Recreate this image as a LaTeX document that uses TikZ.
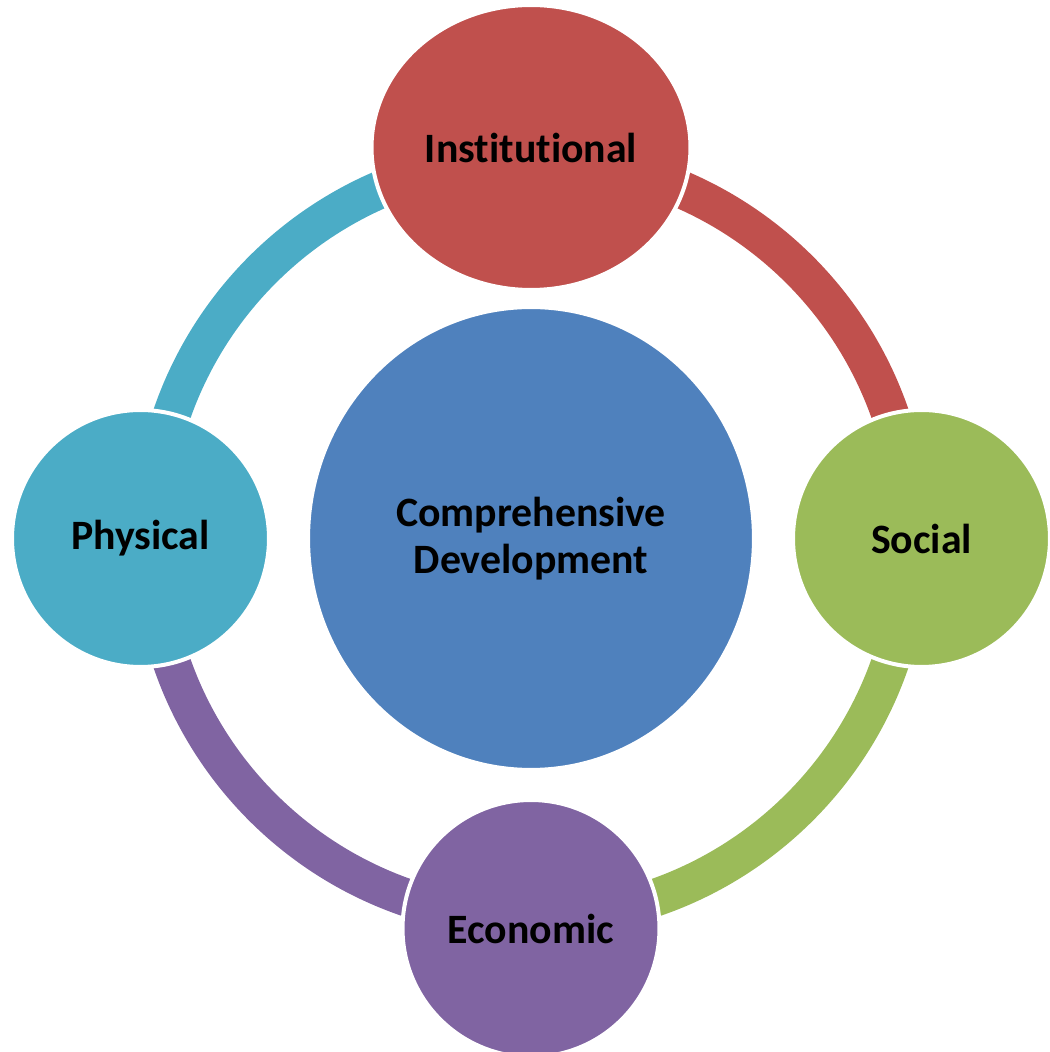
\documentclass[tikz,border=0pt]{standalone}
\usepackage{fontspec}
\setsansfont{Carlito}[Ligatures=NoCommon]
\usetikzlibrary{calc,shapes.geometric,backgrounds}
\definecolor{hubblue}{HTML}{4F81BD}
\definecolor{instred}{HTML}{C0504D}
\definecolor{socgreen}{HTML}{9BBB59}
\definecolor{econpurple}{HTML}{8064A2}
\definecolor{physcyan}{HTML}{4BACC6}

\begin{document}
\begin{tikzpicture}[x=0.02cm,y=0.02cm,
    blob/.style={circle,draw=white,line width=2.27pt,inner sep=0pt,minimum size=5.14cm,
        font=\sffamily\bfseries\fontsize{23.8}{26.6}\selectfont,align=center},
    band/.style={line width=21.5pt}]
            \useasboundingbox (0,0) rectangle (1050,1052);
            \coordinate (c) at (531,513.5);

            \node[blob,ellipse,fill=hubblue,minimum width=8.92cm,minimum height=9.26cm] (hub) at (c) {Comprehensive\\Development};
            \node[blob,ellipse,fill=instred,minimum width=6.38cm,minimum height=5.7cm] (inst) at ($ (c) + (90:391) $) {Institutional};
            \node[blob,fill=socgreen] (soc) at ($ (c) + (0:390.5) $) {Social};
            \node[blob,fill=econpurple] (econ) at ($ (c) + (-90:390) $) {Economic};
            \node[blob,fill=physcyan] (phys) at ($ (c) + (180:390.5) $) {Physical};

            \begin{scope}[on background layer]
                \foreach \nd/\ang/\col in {inst/90/instred,soc/0/socgreen,econ/-90/econpurple,phys/180/physcyan} {
                    \draw[band,\col] ($ (c)!7.6cm!(\nd) $) arc[start angle=\ang,delta angle=-90,radius=380];
                }
            \end{scope}
\end{tikzpicture}
\end{document}
